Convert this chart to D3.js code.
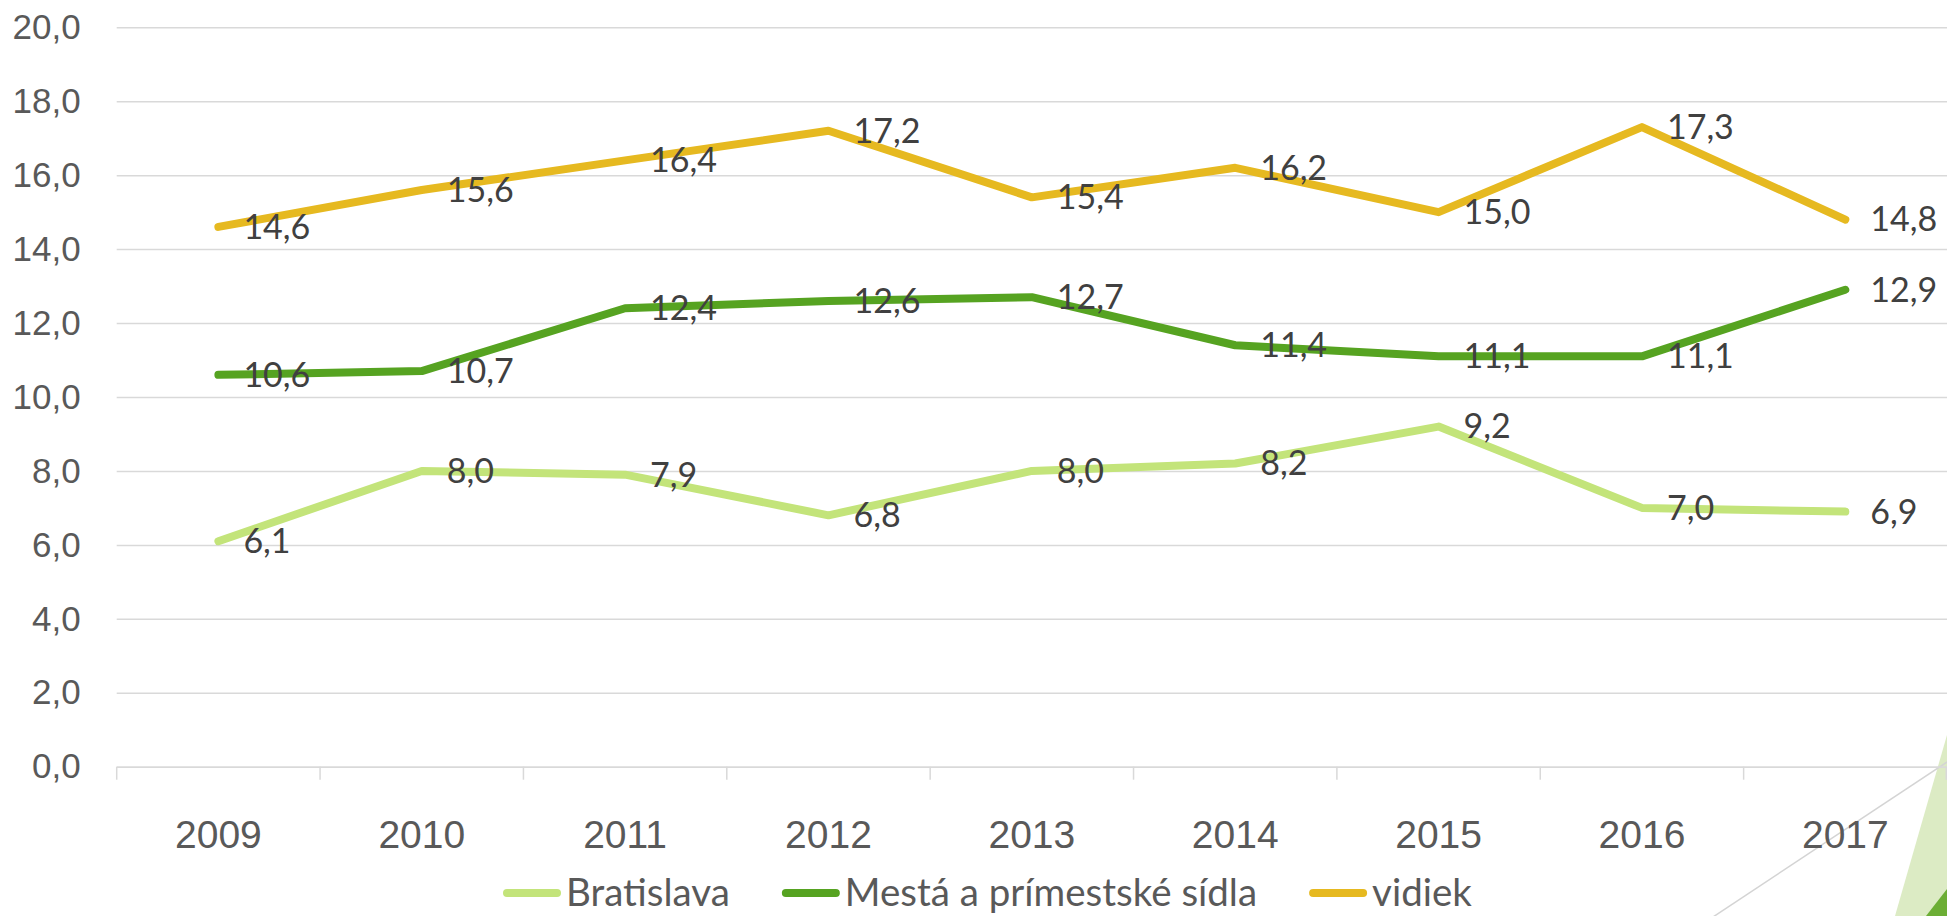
<!DOCTYPE html>
<html>
<head>
<meta charset="utf-8">
<script src="https://cdn.jsdelivr.net/npm/d3@7"></script>
<style>
  html, body { margin: 0; padding: 0; background: #fff; }
  svg { display: block; font-family: Lato, "Open Sans", sans-serif; }
</style>
</head>
<body>
<div id="chart"></div>
<script>
// data
const years = ['2009', '2010', '2011', '2012', '2013', '2014', '2015', '2016', '2017'];
const bratislava = [6.1, 8.0, 7.9, 6.8, 8.0, 8.2, 9.2, 7.0, 6.9];
const mesta = [10.6, 10.7, 12.4, 12.6, 12.7, 11.4, 11.1, 11.1, 12.9];
const vidiek = [14.6, 15.6, 16.4, 17.2, 15.4, 16.2, 15.0, 17.3, 14.8];
const seriesNames = ['Bratislava', 'Mestá a prímestské sídla', 'vidiek'];
const yTicks = [0, 2, 4, 6, 8, 10, 12, 14, 16, 18, 20];

const colors = ['#c3e47a', '#56a321', '#e6b920'];
const width = 1947, height = 916;
const margin = { top: 27.3, left: 116.7, right: 0, bottom: 149.3 };

const series = [bratislava, mesta, vidiek].map((values, i) => ({
  name: seriesNames[i], color: colors[i], values
}));

const locale = d3.formatLocale({ decimal: ',', thousands: ' ', grouping: [3], currency: ['', ' €'] });
const fmt = locale.format('.1f');

const svg = d3.select('#chart')
  .append('svg')
  .attr('width', width)
  .attr('height', height);

const x = d3.scaleBand()
  .domain(years)
  .range([margin.left, width - margin.right])
  .padding(0);

const y = d3.scaleLinear()
  .domain([0, 20])
  .range([height - margin.bottom, margin.top]);

// decoration in the bottom right corner
svg.append('polygon')
  .attr('points', '1947,735 1895,916 1947,916')
  .attr('fill', '#dcebc4');
svg.append('polygon')
  .attr('points', '1926,916 1947,889 1947,916')
  .attr('fill', '#6cae35');
svg.append('line')
  .attr('x1', 1713).attr('y1', 917)
  .attr('x2', 1947).attr('y2', 762)
  .attr('stroke', '#d4d4d4')
  .attr('stroke-width', 1.5);

// y axis + gridlines
const yAxis = svg.append('g')
  .attr('transform', `translate(${margin.left},0)`)
  .call(d3.axisLeft(y)
    .tickValues(yTicks)
    .tickSize(-(width - margin.left - margin.right))
    .tickPadding(36)
    .tickFormat(fmt));
yAxis.select('.domain').remove();
yAxis.selectAll('.tick line')
  .attr('stroke', '#d9d9d9')
  .attr('stroke-width', 1.5);
yAxis.selectAll('.tick text')
  .attr('fill', '#595959')
  .style('font-size', '35px');

// x axis
const xAxis = svg.append('g')
  .attr('transform', `translate(0,${y(0)})`)
  .call(d3.axisBottom(x).tickSize(0).tickPadding(54));
xAxis.select('.domain')
  .attr('stroke', '#d9d9d9')
  .attr('stroke-width', 1.5);
xAxis.selectAll('.tick text')
  .attr('fill', '#595959')
  .style('font-size', '39px');

// category boundary ticks
xAxis.selectAll('.bound')
  .data([...years.map(d => x(d)), x.range()[1] - 0.75])
  .join('line')
  .attr('class', 'bound')
  .attr('x1', d => d).attr('x2', d => d)
  .attr('y1', 0).attr('y2', 13)
  .attr('stroke', '#d9d9d9')
  .attr('stroke-width', 1.5);

const line = d3.line()
  .x((d, i) => x(years[i]) + x.bandwidth() / 2)
  .y(d => y(d));

svg.append('g')
  .selectAll('path')
  .data(series)
  .join('path')
  .attr('fill', 'none')
  .attr('stroke', d => d.color)
  .attr('stroke-width', 8)
  .attr('stroke-linecap', 'round')
  .attr('stroke-linejoin', 'round')
  .attr('d', d => line(d.values));

// data labels, right of each point
svg.append('g')
  .selectAll('g')
  .data(series)
  .join('g')
  .selectAll('text')
  .data(d => d.values)
  .join('text')
  .attr('x', (d, i) => x(years[i]) + x.bandwidth() / 2 + 25)
  .attr('y', d => y(d))
  .attr('dy', '0.35em')
  .attr('fill', '#404040')
  .style('font-size', '34px')
  .text(d => fmt(d));

// legend
const legend = svg.append('g')
  .attr('transform', 'translate(503,893)');
let lx = 0;
series.forEach(s => {
  const item = legend.append('g').attr('transform', `translate(${lx},0)`);
  item.append('line')
    .attr('x1', 4).attr('x2', 54)
    .attr('y1', 0).attr('y2', 0)
    .attr('stroke', s.color)
    .attr('stroke-width', 8)
    .attr('stroke-linecap', 'round');
  const t = item.append('text')
    .attr('x', 63)
    .attr('y', 0)
    .attr('dy', '0.35em')
    .attr('fill', '#595959')
    .style('font-size', '38.5px')
    .text(s.name);
  lx += 63 + t.node().getComputedTextLength() + 52;
});
</script>
</body>
</html>
